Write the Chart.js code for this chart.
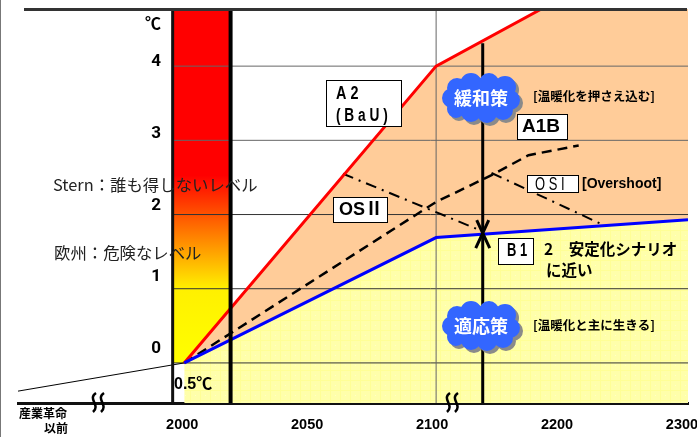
<!DOCTYPE html>
<html>
<head>
<meta charset="utf-8">
<style>
  html, body { margin: 0; padding: 0; background: #fff; }
  canvas { display: block; }
</style>
<script src="https://cdn.jsdelivr.net/npm/chart.js@4"></script>
</head>
<body>
<canvas id="chart" width="697" height="437"></canvas>
<script>
// the time axis is not to scale: 2000-2100 takes as much room as 2100-2300,
// so everything is placed in "axis units" and the ticks carry the years
const xTickValues = [0, 50, 100, 150, 200];
const xTickLabels = ["2000", "2050", "2100", "2200", "2300"];
const yLevels = [0, 1, 2, 3, 4];

const redX = [0, 100, 141.8];
const redY = [0, 4, 4.77];
const blueX = [0, 100, 200];
const blueY = [0, 1.69, 1.93];
const dashedX = [0, 100, 122, 136.7, 156.6];
const dashedY = [0, 2.17, 2.53, 2.8, 2.93];
const os2X = [63, 118];
const os2Y = [2.55, 1.78];
const os1X = [122, 165.7];
const os1Y = [2.56, 1.87];
const pastX = [-66, 0];
const pastY = [-0.38, 0];

const topY = 4.77;
const bottomY = -0.54;
const columnX = [-4.6, 18.4];
const centuryX = 100;
const policyX = 118.5;
const policyTopY = 4.31;
const policyMeetY = 1.75;

const zip = (xs, ys) => xs.map((x, i) => ({ x: x, y: ys[i] }));

function columnGradient(context) {
    const { ctx, chartArea, scales } = context.chart;
    if (!chartArea) return "#ff0000";
    const g = ctx.createLinearGradient(0, chartArea.top, 0, scales.y.getPixelForValue(0));
    g.addColorStop(0, "#ff0000");
    g.addColorStop(0.47, "#ff0000");
    g.addColorStop(0.79, "#fff000");
    g.addColorStop(1, "#ffff00");
    return g;
}

let yellowPattern = null;
function yellowFill(context) {
    if (!yellowPattern) {
        const tile = document.createElement("canvas");
        tile.width = 10;
        tile.height = 10;
        const t = tile.getContext("2d");
        t.fillStyle = "#ffffaa";
        t.fillRect(0, 0, 10, 10);
        t.fillStyle = "#ffff96";
        t.fillRect(0, 0, 10, 1);
        t.fillRect(0, 0, 1, 10);
        t.fillStyle = "#ffffc8";
        t.fillRect(5, 5, 1, 1);
        yellowPattern = context.chart.ctx.createPattern(tile, "repeat");
    }
    return yellowPattern;
}

const flat = { pointRadius: 0, tension: 0, borderJoinStyle: "miter" };

// listed in paint order, bottom first
const datasets = [
    // the temperature column
    { ...flat, data: zip(columnX, [topY, topY]), borderWidth: 0, backgroundColor: columnGradient, fill: { value: 0 } },
    // band between A2 and B1, cut off at the top of the frame
    { ...flat, data: zip(redX.concat([200]), redY.concat([topY])), borderWidth: 0, fill: { target: 2, above: "#ffcc99", below: "#ffcc99" } },
    // under B1
    { ...flat, data: zip(blueX, blueY), borderWidth: 0, backgroundColor: yellowFill, fill: "start" }
];

yLevels.forEach((level) => {
    datasets.push({ ...flat, data: zip([columnX[0], 200], [level, level]), borderColor: level > 2 ? "#666666" : "#333333", borderWidth: 1, fill: false });
});

datasets.push(
    { ...flat, data: zip(pastX, pastY), borderColor: "#000000", borderWidth: 1, fill: false },
    { ...flat, data: zip([centuryX, centuryX], [bottomY, topY]), borderColor: "#666666", borderWidth: 1, fill: false },
    { ...flat, data: zip(dashedX, dashedY), borderColor: "#000000", borderWidth: 2.5, borderDash: [10, 6], fill: false },
    { ...flat, data: zip(os2X, os2Y), borderColor: "#000000", borderWidth: 2, borderDash: [11, 6, 2, 6], fill: false },
    { ...flat, data: zip(os1X, os1Y), borderColor: "#000000", borderWidth: 2, borderDash: [11, 6, 2, 6], fill: false },
    { ...flat, data: zip(redX, redY), borderColor: "#ff0000", borderWidth: 3, fill: false },
    { ...flat, data: zip(blueX, blueY), borderColor: "#0000ff", borderWidth: 3, fill: false },
    { ...flat, data: zip([columnX[0], columnX[0]], [bottomY, topY]), borderColor: "#111111", borderWidth: 3, fill: false },
    { ...flat, data: zip([columnX[1], columnX[1]], [bottomY, topY]), borderColor: "#000000", borderWidth: 4, fill: false },
    { ...flat, data: zip([policyX, policyX], [bottomY, policyTopY]), borderColor: "#000000", borderWidth: 3, fill: false }
);
// Chart.js paints the lowest order last
datasets.forEach((d, i) => { d.order = datasets.length - i; });

const boxes = [
    { x: 326, y: 80, w: 75, h: 46 },
    { x: 517, y: 114, w: 50, h: 25 },
    { x: 333, y: 197, w: 54, h: 25 },
    { x: 527, y: 175, w: 51, h: 17 },
    { x: 498, y: 238, w: 35, h: 26 }
];

const jp = '"Noto Sans CJK JP", sans-serif';
const sans = '"Liberation Sans", "Noto Sans CJK JP", sans-serif';
// squeeze: horizontal scale, the original used a condensed face that is not installed
const labels = [
    { text: "A 2", x: 336, y: 94, font: "bold 18px " + sans, squeeze: 0.8 },
    { text: "( B a U )", x: 336, y: 116, font: "bold 18px " + sans, squeeze: 0.76 },
    { text: "A1B", x: 522, y: 127, font: "bold 19px " + sans },
    { text: "OSⅡ", x: 339, y: 210, font: "bold 18px " + sans },
    { text: "O S I", x: 535, y: 185, font: "18px " + sans, squeeze: 0.72 },
    { text: "[Overshoot]", x: 582, y: 184, font: "bold 14px " + sans },
    { text: "B 1", x: 507, y: 251, font: "bold 18px " + sans, squeeze: 0.72 },
    { text: "2　安定化シナリオ", x: 544, y: 249, font: "bold 15.5px " + jp },
    { text: "に近い", x: 546, y: 270, font: "bold 15.5px " + jp },
    { text: "[温暖化を押さえ込む]", x: 533, y: 96, font: "bold 12.5px " + jp },
    { text: "[温暖化と主に生きる]", x: 533, y: 325, font: "bold 12.5px " + jp },
    { text: "Stern：誰も得しないレベル", x: 53, y: 185, font: "16.4px " + jp, color: "#222222" },
    { text: "欧州：危険なレベル", x: 54, y: 253, font: "16.4px " + jp, color: "#222222" },
    { text: "℃", x: 145, y: 23, font: "bold 16px " + jp },
    { text: "0.5℃", x: 174, y: 385, font: "bold 16px " + sans },
    { text: "産業革命", x: 19, y: 413, font: "bold 12px " + jp },
    { text: "以前", x: 44, y: 428, font: "bold 12px " + jp }
];

const clouds = [
    { text: "緩和策", x: 481, y: 98 },
    { text: "適応策", x: 481, y: 326 }
];
// bumps of a cloud, relative to its centre
const bumps = [[-29, 0, 10], [-24, -10, 10], [-10, -14, 11], [8, -15, 10], [24, -11, 11], [29, 2, 10], [22, 12, 10], [6, 15, 10], [-10, 14, 10], [-25, 11, 9]];

const breakMarks = [98, 452];

const decorations = {
    id: "decorations",
    afterDatasetsDraw(chart) {
        const { ctx, scales } = chart;

        // arrowheads meeting on the B1 line
        const ax = scales.x.getPixelForValue(policyX);
        const ay = scales.y.getPixelForValue(policyMeetY);
        ctx.save();
        ctx.strokeStyle = "#000";
        ctx.lineWidth = 3;
        ctx.beginPath();
        ctx.moveTo(ax - 7, ay + 15);
        ctx.lineTo(ax, ay);
        ctx.lineTo(ax + 7, ay + 15);
        ctx.moveTo(ax - 6, ay - 13);
        ctx.lineTo(ax, ay);
        ctx.lineTo(ax + 6, ay - 13);
        ctx.stroke();
        ctx.restore();

        clouds.forEach((c) => {
            ctx.save();
            [["#8a8a8a", 3, 3], ["#3366ff", 0, 0]].forEach(([color, dx, dy]) => {
                ctx.fillStyle = color;
                ctx.beginPath();
                bumps.forEach(([bx, by, r]) => {
                    ctx.moveTo(c.x + bx + dx + r, c.y + by + dy);
                    ctx.arc(c.x + bx + dx, c.y + by + dy, r, 0, Math.PI * 2);
                });
                ctx.rect(c.x - 28 + dx, c.y - 16 + dy, 56, 32);
                ctx.fill();
            });
            ctx.font = "bold 18px " + jp;
            ctx.textAlign = "center";
            ctx.textBaseline = "middle";
            ctx.fillStyle = "#fff";
            ctx.fillText(c.text, c.x, c.y);
            ctx.restore();
        });

        boxes.forEach((b) => {
            ctx.fillStyle = "#fff";
            ctx.fillRect(b.x, b.y, b.w, b.h);
            ctx.strokeStyle = "#000";
            ctx.lineWidth = 1;
            ctx.strokeRect(b.x + 0.5, b.y + 0.5, b.w, b.h);
        });

        ctx.save();
        ctx.textBaseline = "middle";
        ctx.textAlign = "left";
        labels.forEach((l) => {
            ctx.save();
            ctx.font = l.font;
            ctx.fillStyle = l.color || "#000";
            ctx.translate(l.x, l.y);
            ctx.scale(l.squeeze || 1, 1);
            ctx.fillText(l.text, 0, 0);
            ctx.restore();
        });
        ctx.restore();
    },
    afterDraw(chart) {
        const { ctx } = chart;
        // frame top and the squiggles over the base line
        ctx.save();
        ctx.fillStyle = "#333";
        ctx.fillRect(24, 8, 663, 3);
        ctx.fillStyle = "#777";
        ctx.fillRect(0, 0, 1, 437);
        breakMarks.forEach((mx) => {
            ctx.strokeStyle = "#000";
            ctx.lineWidth = 2.5;
            [-4, 4].forEach((off) => {
                ctx.beginPath();
                ctx.moveTo(mx + off + 2, 393);
                ctx.bezierCurveTo(mx + off - 7, 399, mx + off + 7, 405, mx + off - 1, 412);
                ctx.stroke();
            });
        });
        ctx.restore();
    }
};

new Chart(document.getElementById("chart").getContext("2d"), {
    type: "line",
    data: { datasets: datasets },
    options: {
        responsive: false,
        animation: false,
        layout: { padding: { left: 18, right: 9, top: 9, bottom: 0 } },
        plugins: { legend: { display: false }, title: { display: false }, tooltip: { enabled: false } },
        scales: {
            x: {
                type: "linear",
                min: -66,
                max: 200,
                grid: { display: false },
                border: { color: "#111111", width: 3 },
                // the printed years run a little tighter than the marks they name
                afterBuildTicks: (scale) => { scale.ticks = xTickValues.map((v) => ({ value: v * 0.992, label: xTickLabels[xTickValues.indexOf(v)] })); },
                afterFit: (scale) => {
                    scale.paddingLeft = 0;
                    scale.paddingRight = 0;
                    scale.height = 34;
                },
                ticks: {
                    autoSkip: false,
                    maxRotation: 0,
                    color: "#000000",
                    padding: 5,
                    labelOffset: -2,
                    font: { family: "Liberation Sans", size: 14.5, weight: "bold" },
                    callback: (v) => xTickLabels[xTickValues.indexOf(Math.round(v / 0.992))]
                }
            },
            // carries the data; its grid is drawn as datasets so it can stop at the column
            y: { min: bottomY, max: topY, display: false },
            // the printed numbers sit above their lines and drift more toward the bottom,
            // so they get their own slightly compressed axis
            yLabels: {
                type: "linear",
                position: { x: -9.2 },
                min: -0.753,
                max: 4.739,
                grid: { display: false },
                border: { display: false },
                afterBuildTicks: (scale) => { scale.ticks = yLevels.map((v) => ({ value: v })); },
                afterFit: (scale) => {
                    scale.paddingTop = 0;
                    scale.paddingBottom = 0;
                },
                ticks: {
                    color: "#000000",
                    padding: 12,
                    font: { family: "Roboto", size: 17, weight: "bold" }
                }
            }
        }
    },
    plugins: [decorations]
});
</script>
</body>
</html>
